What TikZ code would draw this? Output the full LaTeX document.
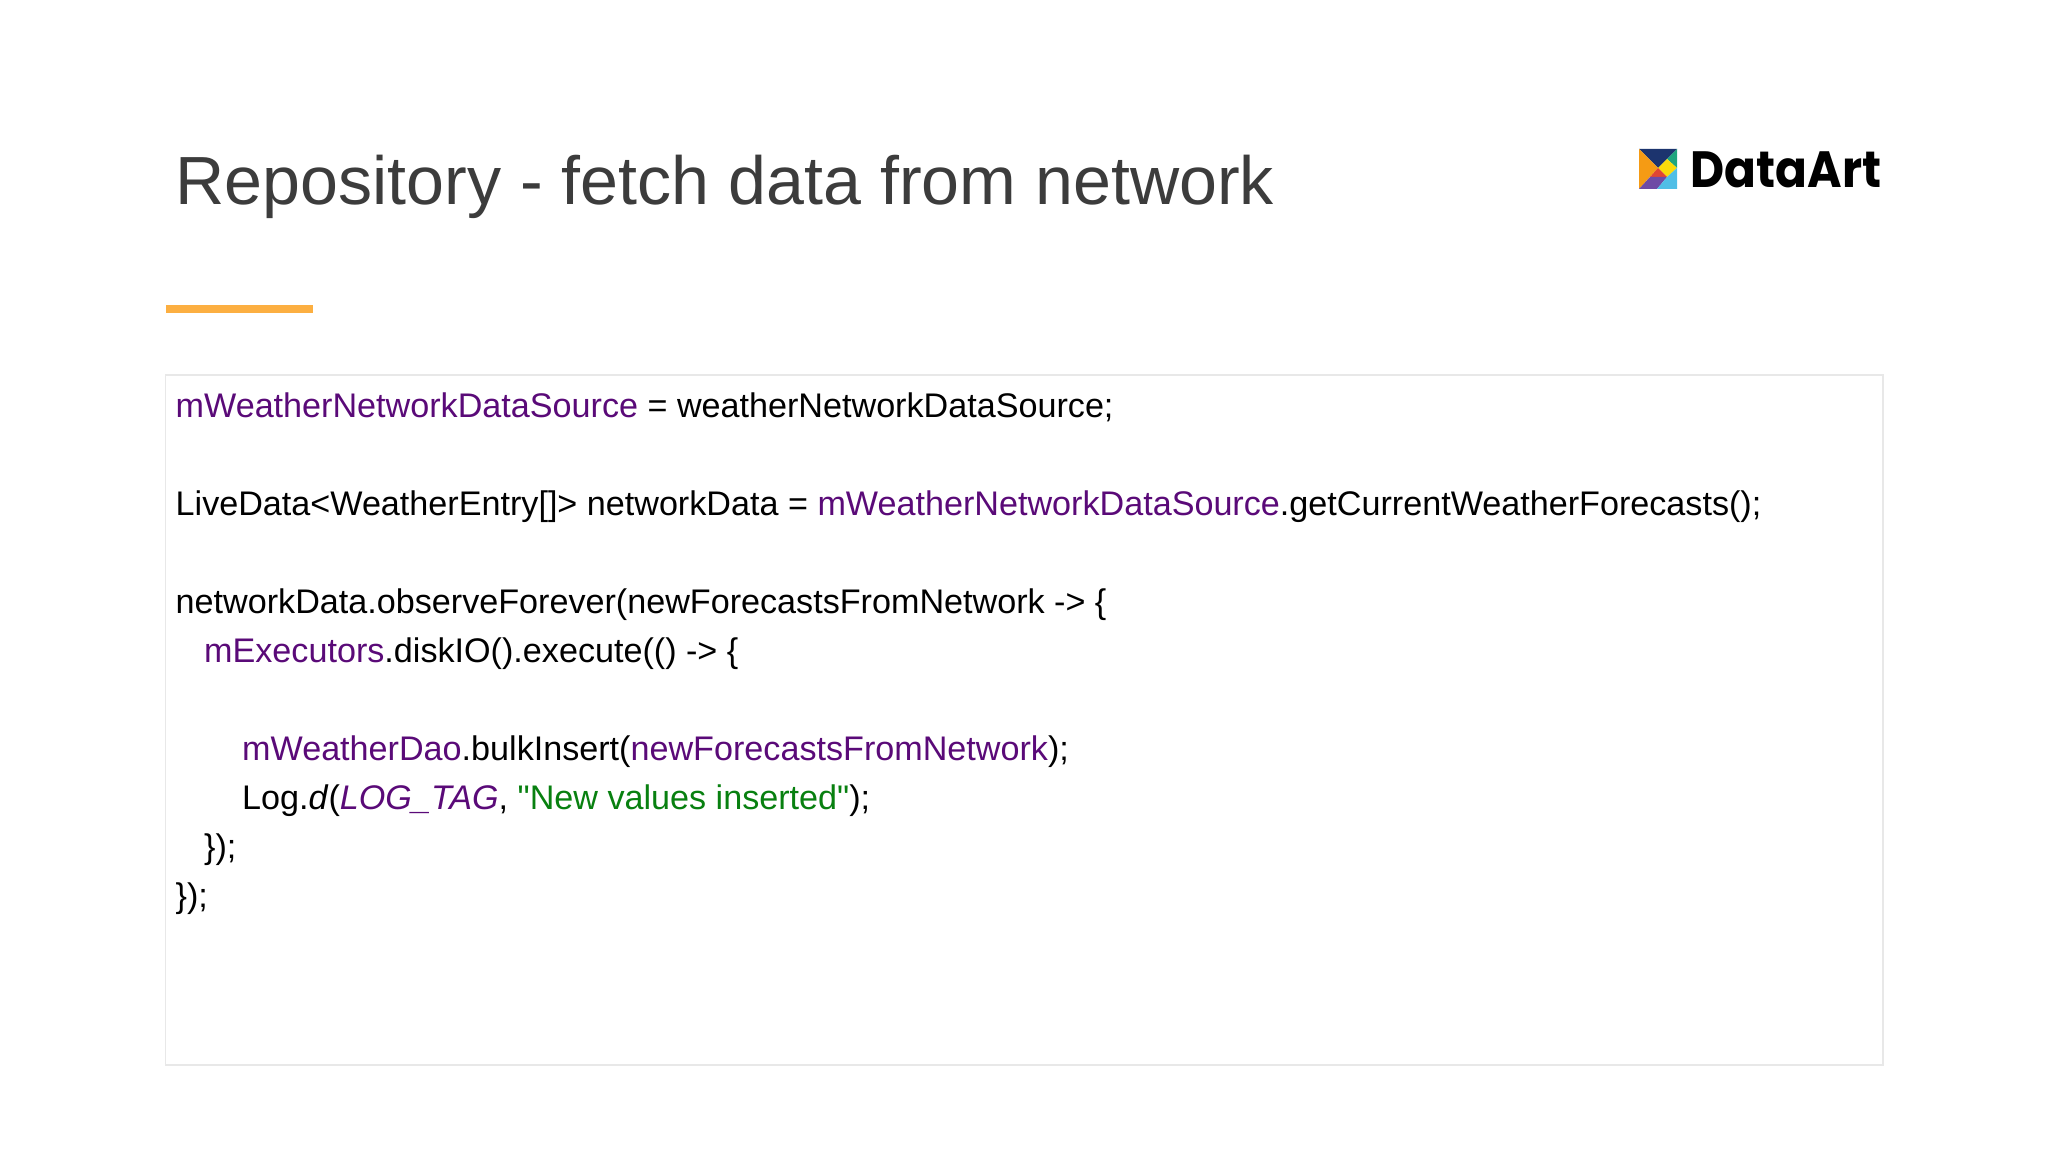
\documentclass[tikz,border=0pt]{standalone}
\usepackage{fontspec}
\usepackage{xcolor}
\setmainfont{Liberation Sans}
\newfontfamily\codefont{Liberation Sans}
\newfontfamily\logofont{Poppins}[FakeStretch=0.92]
\definecolor{titleColor}{RGB}{60, 60, 60}
\definecolor{barColor}{RGB}{252, 175, 65}
\definecolor{frameColor}{RGB}{232, 232, 232}
\definecolor{fieldColor}{RGB}{90, 10, 120}
\definecolor{stringColor}{RGB}{8, 128, 16}
\definecolor{navyColor}{RGB}{28, 52, 110}
\definecolor{greenColor}{RGB}{30, 165, 125}
\definecolor{yellowColor}{RGB}{250, 218, 10}
\definecolor{orangeColor}{RGB}{245, 155, 20}
\definecolor{redColor}{RGB}{225, 70, 50}
\definecolor{purpleColor}{RGB}{110, 75, 165}
\definecolor{skyColor}{RGB}{80, 190, 230}
\newcommand{\fld}[1]{\textcolor{fieldColor}{#1}}
\begin{document}
\begin{tikzpicture}[x=0.01cm, y=-0.01cm, codeline/.style={anchor=base west, inner sep=0pt, font=\codefont\fontsize{9.71pt}{12pt}\selectfont}]
    \useasboundingbox (0,0) rectangle (2048,1152);
    \node[anchor=base west, inner sep=0pt, text=titleColor, font=\fontsize{19.38pt}{22pt}\selectfont] (title) at (175,205) {Repository - fetch data from network};
    \fill[barColor] (165.5,305) rectangle (313,313);
    \draw[frameColor, line width=0.4pt] (165.5,375) rectangle (1883,1065);
    % logo
    \fill[navyColor] (1639,149) -- (1677,149) -- (1658,168) -- cycle;
    \fill[greenColor] (1677,149) -- (1677,168) -- (1667,159) -- cycle;
    \fill[yellowColor] (1667,159) -- (1677,168) -- (1667,177) -- (1658,168) -- cycle;
    \fill[orangeColor] (1639,149) -- (1658,168) -- (1639,189) -- cycle;
    \fill[redColor] (1658,168) -- (1667,177) -- (1650,177) -- cycle;
    \fill[purpleColor] (1650,177) -- (1667,177) -- (1657,189) -- (1639,189) -- cycle;
    \fill[skyColor] (1677,168) -- (1677,189) -- (1657,189) -- (1667,177) -- cycle;
    \node[anchor=base west, inner sep=0pt, font=\logofont\bfseries\fontsize{14.5pt}{16pt}\selectfont] (logo) at (1690,188) {DataArt};
    % code
    \node[codeline] (line1) at (175,418) {\fld{mWeatherNetworkDataSource} = weatherNetworkDataSource;};
    \node[codeline] (line2) at (175,515.5) {LiveData<WeatherEntry[]> networkData = \fld{mWeatherNetworkDataSource}.getCurrentWeatherForecasts();};
    \node[codeline] (line3) at (175,613.5) {networkData.observeForever(newForecastsFromNetwork -> \{};
    \node[codeline] (line4) at (203.5,662.5) {\fld{mExecutors}.diskIO().execute(() -> \{};
    \node[codeline] (line5) at (241.5,760.5) {\fld{mWeatherDao}.bulkInsert(\fld{newForecastsFromNetwork});};
    \node[codeline] (line6) at (241.5,809.5) {Log.\textit{d}(\textit{\fld{LOG\_TAG}}, \textcolor{stringColor}{"New values inserted"});};
    \node[codeline] (line7) at (203.5,858.5) {\});};
    \node[codeline] (line8) at (175,907.5) {\});};
\end{tikzpicture}
\end{document}
